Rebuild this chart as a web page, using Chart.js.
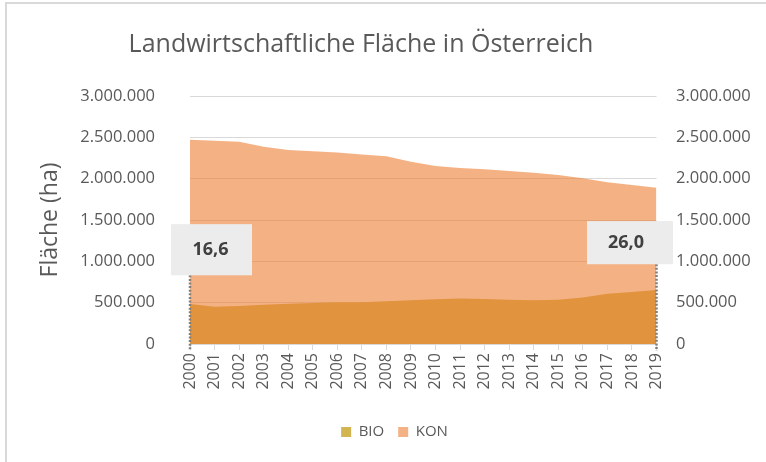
<!DOCTYPE html>
<html>
<head>
<meta charset="utf-8">
<script src="https://cdn.jsdelivr.net/npm/chart.js@4/dist/chart.umd.min.js"></script>
<style>
html,body{margin:0;padding:0;background:#fff;}
#wrap{width:766px;height:462px;position:relative;}
</style>
</head>
<body>
<div id="wrap"><canvas id="c" width="766" height="462"></canvas></div>
<script>
// ---- data ----
const years = ['2000','2001','2002','2003','2004','2005','2006','2007','2008','2009','2010','2011','2012','2013','2014','2015','2016','2017','2018','2019'];
const bio = [483000,451000,459000,476000,488000,495000,504000,504000,516000,528000,540000,549000,544000,536000,528000,536000,564000,609000,629000,653000];
const kon = [2470000,2458000,2446000,2385000,2348000,2333000,2316000,2291000,2272000,2206000,2154000,2130000,2114000,2094000,2073000,2045000,2005000,1956000,1924000,1891000];
const yTicks = [0,500000,1000000,1500000,2000000,2500000,3000000];
const shareLabels = ['16,6','26,0'];
const shareIndex = [0,19];

const fmt = v => String(v).replace(/\B(?=(\d{3})+(?!\d))/g,'.');
const FONT = "'Open Sans', sans-serif";
const GREY = '#595959';

const framePlugin = {
  id:'frame',
  beforeDraw(chart){
    const ctx = chart.ctx;
    ctx.save();
    ctx.fillStyle = '#D9D9D9';
    ctx.fillRect(5,2,2,460);
    ctx.fillRect(5,2,761,2);
    ctx.restore();
  }
};

const shiftPlugin = {
  id:'shift',
  afterLayout(chart){
    const t = chart.titleBlock;
    if (t){ t.left = 0; t.right = 722; }
    const l = chart.legend;
    if (l){ const h = l.bottom - l.top; l.left = 23; l.right = 766; l.top = 410.5; l.bottom = l.top + h; }
  }
};

const calloutPlugin = {
  id:'callouts',
  afterDatasetsDraw(chart){
    const ctx = chart.ctx, xs = chart.scales.x, ys = chart.scales.y;
    const boxes = [
      {dx0:-19, dx1:62, top:1450000, bottom:831000, tx:20.5},
      {dx0:-69.5, dx1:16.5, top:1487000, bottom:965000, tx:-30.5}
    ];
    ctx.save();
    shareIndex.forEach((idx,i)=>{
      const b = boxes[i];
      const px = xs.getPixelForValue(idx);
      const yTop = ys.getPixelForValue(b.top), yBot = ys.getPixelForValue(b.bottom);
      ctx.strokeStyle = '#7F7F7F';
      ctx.lineWidth = 2.5;
      ctx.setLineDash([2,1.6]);
      ctx.beginPath();
      ctx.moveTo(px, yBot);
      ctx.lineTo(px, ys.getPixelForValue(0) + 7);
      ctx.stroke();
      ctx.setLineDash([]);
      ctx.fillStyle = '#ECECEC';
      ctx.fillRect(px + b.dx0, yTop, b.dx1 - b.dx0, yBot - yTop);
      ctx.fillStyle = '#404040';
      ctx.font = "bold 18px " + FONT;
      ctx.textAlign = 'center';
      ctx.textBaseline = 'middle';
      ctx.fillText(shareLabels[i], px + b.tx, (yTop + yBot)/2);
    });
    ctx.restore();
  }
};

new Chart(document.getElementById('c'), {
  type:'line',
  data:{
    labels: years,
    datasets:[
      {label:'BIO', data:bio, fill:'origin', backgroundColor:'rgb(210,180,80)', borderColor:'transparent', borderWidth:0, pointRadius:0, tension:0, order:2},
      {label:'KON', data:kon, fill:'origin', backgroundColor:'rgba(237,125,49,0.6)', borderColor:'transparent', borderWidth:0, pointRadius:0, tension:0, order:1}
    ]
  },
  options:{
    responsive:false,
    animation:false,
    layout:{padding:0},
    plugins:{
      tooltip:{enabled:false},
      title:{display:true, text:'Landwirtschaftliche Fläche in Österreich', color:GREY,
        font:{family:FONT, size:25, weight:'normal'}, padding:{top:30, bottom:36}},
      legend:{display:true, position:'bottom',
        labels:{color:GREY, font:{family:FONT, size:15}, boxWidth:10, boxHeight:10, padding:14,
          sort:(a,b)=>a.datasetIndex-b.datasetIndex}}
    },
    scales:{
      x:{
        offset:false,
        grid:{display:true, drawOnChartArea:false, drawTicks:true, tickLength:6, color:'#D9D9D9'},
        border:{display:true, color:'#D9D9D9', width:1},
        ticks:{color:GREY, font:{family:FONT, size:16}, minRotation:90, maxRotation:90, autoSkip:false, padding:3},
        afterFit(s){ s.height = 79; }
      },
      y:{
        min:0, max:3000000,
        afterBuildTicks(s){ s.ticks = yTicks.map(v=>({value:v})); },
        grid:{color:'#D9D9D9', drawTicks:false},
        border:{display:false},
        ticks:{color:GREY, font:{family:FONT, size:16.5}, padding:35, callback:v=>fmt(v)},
        title:{display:true, text:'Fläche (ha)', color:GREY, font:{family:FONT, size:23}, padding:{top:37, bottom:0}},
        afterFit(s){ s.width = 190; }
      },
      y2:{
        position:'right', min:0, max:3000000,
        afterBuildTicks(s){ s.ticks = yTicks.map(v=>({value:v})); },
        grid:{display:false, drawTicks:false},
        border:{display:false},
        ticks:{color:GREY, font:{family:FONT, size:16.5}, padding:19.5, callback:v=>fmt(v)},
        afterFit(s){ s.width = 109.5; }
      }
    }
  },
  plugins:[framePlugin, shiftPlugin, calloutPlugin]
});
</script>
</body>
</html>
